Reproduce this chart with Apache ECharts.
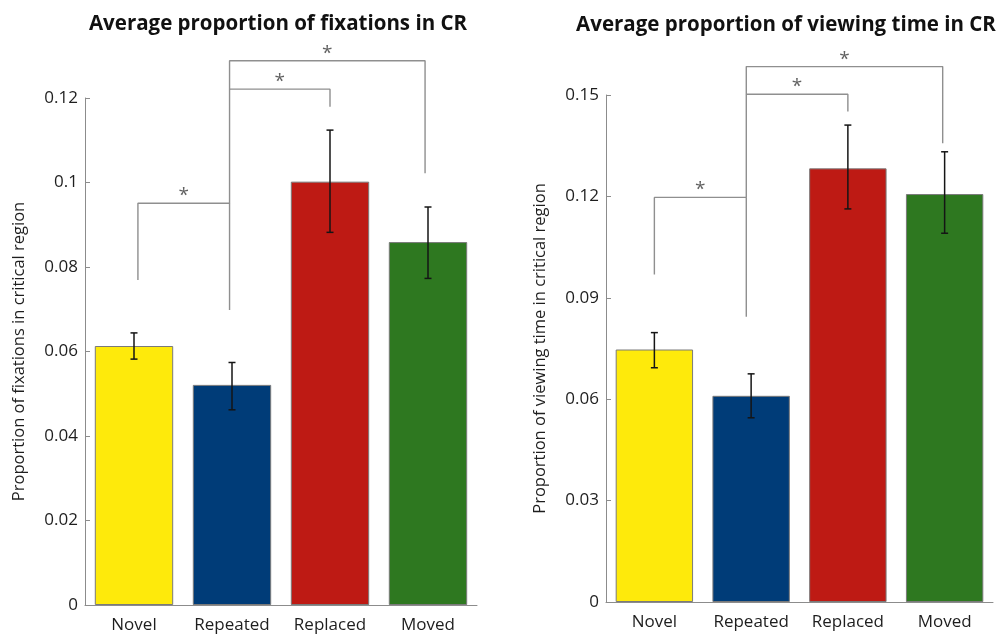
<!DOCTYPE html>
<html>
<head>
<meta charset="utf-8">
<title>Critical region fixations and viewing time</title>
<script src="https://cdn.jsdelivr.net/npm/echarts@6/dist/echarts.min.js"></script>
<style>
  html, body { margin: 0; padding: 0; background: #ffffff; }
  #chart { width: 1000px; height: 635px; }
</style>
</head>
<body>
<div id="chart"></div>
<script>
// Conditions shown on both panels
const categories = ['Novel', 'Repeated', 'Replaced', 'Moved'];
const barColors = ['#FEEA0B', '#003C78', '#BE1A14', '#2E7820'];

// Panel 1: proportion of fixations in the critical region
const fixMean  = [0.0613, 0.0521, 0.1002, 0.0859];
const fixLower = [0.0582, 0.0462, 0.0882, 0.0773];
const fixUpper = [0.0644, 0.0574, 0.1124, 0.0942];
const fixTicks = [0, 0.02, 0.04, 0.06, 0.08, 0.1, 0.12];
// significance brackets: [start x, end x, start leg foot, bracket height, end leg foot]
const fixBrackets = [
  [0.04, 0.975, 0.0769, 0.0951, 0.0698],
  [0.975, 2.0, 0.0951, 0.1221, 0.1179],
  [0.975, 2.97, 0.1221, 0.1288, 0.1022]
];

// Panel 2: proportion of viewing time in the critical region
const timeMean  = [0.0747, 0.0610, 0.1283, 0.1207];
const timeLower = [0.0693, 0.0545, 0.1163, 0.1091];
const timeUpper = [0.0797, 0.0675, 0.1411, 0.1332];
const timeTicks = [0, 0.03, 0.06, 0.09, 0.12, 0.15];
const timeBrackets = [
  [0.0, 0.95, 0.0969, 0.1197, 0.0844],
  [0.95, 2.0, 0.1197, 0.1502, 0.1451],
  [0.95, 2.98, 0.1502, 0.1584, 0.1357]
];

const FONT = '"Open Sans", "Noto Sans", sans-serif';
const AXIS_GRAY = '#8c8c8c';
const TEXT_COLOR = '#1e1e1e';

const chart = echarts.init(document.getElementById('chart'), null, { renderer: 'canvas' });

function categoryAxis(gridIndex) {
  return {
    type: 'category', gridIndex: gridIndex, data: categories,
    axisLine: { show: true, onZero: false, lineStyle: { color: AXIS_GRAY, width: 1 } },
    axisTick: { show: false },
    axisLabel: { interval: 0, color: TEXT_COLOR, fontFamily: FONT, fontSize: 17, margin: 12 }
  };
}
function overlayAxis(gridIndex) {
  return { type: 'value', gridIndex: gridIndex, min: -0.5, max: 3.5, show: false };
}
function valueAxis(gridIndex, ticks, name) {
  return {
    type: 'value', gridIndex: gridIndex,
    min: ticks[0], max: ticks[ticks.length - 1], interval: ticks[1] - ticks[0],
    name: name, nameLocation: 'middle', nameGap: 57, nameRotate: 90,
    nameTextStyle: { color: TEXT_COLOR, fontFamily: FONT, fontSize: 16.5 },
    splitLine: { show: false },
    axisLine: { show: true, onZero: false, lineStyle: { color: AXIS_GRAY, width: 1 } },
    axisTick: { show: true, inside: true, length: 5, lineStyle: { color: AXIS_GRAY } },
    axisLabel: { color: TEXT_COLOR, fontFamily: FONT, fontSize: 17, margin: 7 }
  };
}

function barSeries(axisIdx, values) {
  return {
    type: 'bar', xAxisIndex: axisIdx, yAxisIndex: axisIdx,
    barWidth: '80%',
    data: values.map((v, i) => ({ value: v, itemStyle: { color: barColors[i] } })),
    itemStyle: { borderColor: '#7a7a7a', borderWidth: 1 },
    silent: true, animation: false
  };
}

function errorSeries(axisIdx, lower, upper) {
  return {
    type: 'custom', xAxisIndex: axisIdx, yAxisIndex: axisIdx,
    data: lower.map((lo, i) => [i, lo, upper[i]]),
    encode: { x: 0, y: [1, 2] },
    renderItem: function (params, api) {
      const i = api.value(0);
      const lo = api.coord([i, api.value(1)]);
      const hi = api.coord([i, api.value(2)]);
      const cap = 3.5;
      const style = { stroke: '#151515', lineWidth: 1.5 };
      return {
        type: 'group',
        children: [
          { type: 'line', shape: { x1: lo[0], y1: lo[1], x2: hi[0], y2: hi[1] }, style: style },
          { type: 'line', shape: { x1: lo[0] - cap, y1: lo[1], x2: lo[0] + cap, y2: lo[1] }, style: style },
          { type: 'line', shape: { x1: hi[0] - cap, y1: hi[1], x2: hi[0] + cap, y2: hi[1] }, style: style }
        ]
      };
    },
    silent: true, animation: false, z: 5
  };
}

function bracketSeries(overlayIdx, yIdx, brackets) {
  const out = [];
  brackets.forEach(b => {
    out.push({
      type: 'line', xAxisIndex: overlayIdx, yAxisIndex: yIdx,
      data: [[b[0], b[2]], [b[0], b[3]], [b[1], b[3]], [b[1], b[4]]],
      symbol: 'none', clip: false, silent: true, animation: false,
      lineStyle: { color: '#8f8f8f', width: 1.4 }, z: 4
    });
  });
  out.push({
    type: 'scatter', xAxisIndex: overlayIdx, yAxisIndex: yIdx,
    data: brackets.map(b => [(b[0] + b[1]) / 2, b[3]]),
    symbolSize: 0, clip: false, silent: true, animation: false,
    label: {
      show: true, position: 'top', distance: -2, formatter: '*',
      color: '#3a3a3a', fontFamily: FONT, fontSize: 19
    }
  });
  return out;
}

const option = {
  backgroundColor: '#ffffff',
  animation: false,
  graphic: [
    { type: 'text', x: 278, y: 24, style: { text: 'Average proportion of fixations in CR', fontFamily: FONT, fontWeight: 'bold', fontSize: 20.5, fill: '#111', textAlign: 'center', textVerticalAlign: 'middle' } },
    { type: 'text', x: 786, y: 25, style: { text: 'Average proportion of viewing time in CR', fontFamily: FONT, fontWeight: 'bold', fontSize: 20.5, fill: '#111', textAlign: 'center', textVerticalAlign: 'middle' } }
  ],
  grid: [
    { left: 85, top: 98, width: 392, height: 507 },
    { left: 606, top: 95, width: 387, height: 507 }
  ],
  xAxis: [categoryAxis(0), categoryAxis(1), overlayAxis(0), overlayAxis(1)],
  yAxis: [
    valueAxis(0, fixTicks, 'Proportion of fixations in critical region'),
    valueAxis(1, timeTicks, 'Proportion of viewing time in critical region')
  ],
  series: [
    barSeries(0, fixMean),
    barSeries(1, timeMean),
    errorSeries(0, fixLower, fixUpper),
    errorSeries(1, timeLower, timeUpper),
    ...bracketSeries(2, 0, fixBrackets),
    ...bracketSeries(3, 1, timeBrackets)
  ]
};

chart.setOption(option);
</script>
</body>
</html>
